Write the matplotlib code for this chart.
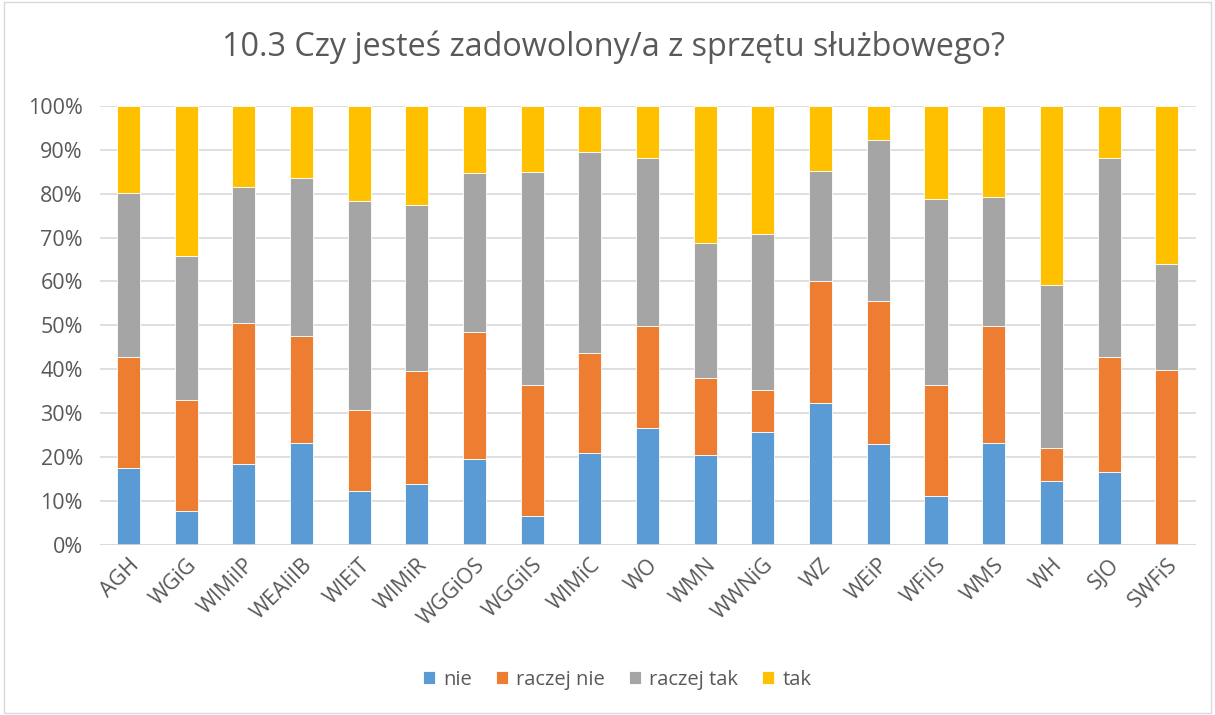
"""
stacked percent bars: satisfaction with work equipment per faculty
"""

import matplotlib.pyplot as plt
from matplotlib.patches import Rectangle

plt.rcParams['font.family'] = ['Open Sans', 'DejaVu Sans']

faculties = ['AGH', 'WGiG', 'WIMiIP', 'WEAIiIB', 'WIEiT', 'WIMiR', 'WGGiOS',
             'WGGiIS', 'WIMiC', 'WO', 'WMN', 'WWNiG', 'WZ', 'WEiP', 'WFiIS',
             'WMS', 'WH', 'SJO', 'SWFiS']
# cumulative tops, turned into shares below
top_nie = [17.6, 7.8, 18.4, 23.2, 12.3, 13.8, 19.6, 6.5, 21.0, 26.5,
           20.5, 25.6, 32.2, 22.9, 11.1, 23.3, 14.6, 16.5, 0.0]
top_raczej_nie = [42.8, 32.9, 50.6, 47.5, 30.6, 39.6, 48.4, 36.5, 43.8, 49.9,
                  37.9, 35.3, 60.2, 55.6, 36.5, 49.9, 22.1, 42.7, 39.8]
top_raczej_tak = [80.1, 65.8, 81.4, 83.5, 78.4, 77.3, 84.6, 84.9, 89.4, 88.2,
                  68.8, 70.9, 85.2, 92.2, 78.8, 79.3, 59.2, 88.1, 63.9]

nie = top_nie
raczej_nie = [b - a for a, b in zip(top_nie, top_raczej_nie)]
raczej_tak = [b - a for a, b in zip(top_raczej_nie, top_raczej_tak)]
tak = [100 - a for a in top_raczej_tak]

series = [('nie', nie, '#5B9BD5'),
          ('raczej nie', raczej_nie, '#ED7D31'),
          ('raczej tak', raczej_tak, '#A5A5A5'),
          ('tak', tak, '#FFC000')]

text_color = '#595959'

fig = plt.figure(figsize=(12.15, 7.15), dpi=100)
ax = fig.add_axes([0.082, 0.238, 0.902, 0.614])

x = range(len(faculties))
bottom = [0.0] * len(faculties)
for name, vals, col in series:
    ax.bar(x, vals, width=0.4, bottom=bottom, color=col, label=name,
           edgecolor='white', linewidth=0.6, zorder=3)
    bottom = [b + v for b, v in zip(bottom, vals)]

ax.set_xlim(-0.5, len(faculties) - 0.5)
ax.set_ylim(0, 100)
ax.set_yticks(range(0, 101, 10))
ax.set_yticklabels([f'{t}%' for t in range(0, 101, 10)])
ax.set_xticks(list(x))
ax.set_xticklabels(faculties, rotation=45, ha='right', rotation_mode='anchor')
ax.tick_params(axis='both', length=0, labelsize=15.5, colors=text_color)
ax.tick_params(axis='y', pad=12)
ax.tick_params(axis='x', pad=7)
ax.grid(axis='y', color='#D9D9D9', linewidth=1.2, zorder=0)
for s in ax.spines.values():
    s.set_visible(False)
ax.axhline(0, color='#D9D9D9', linewidth=1.2, zorder=4)

fig.suptitle('10.3 Czy jesteś zadowolony/a z sprzętu służbowego?',
             x=0.505, y=0.958, fontsize=23.3, color=text_color)

fig.legend(loc='center', bbox_to_anchor=(0.508, 0.049), ncol=4, frameon=False,
           fontsize=14.5, labelcolor=text_color, handlelength=0.6,
           handleheight=0.6, handletextpad=0.4, columnspacing=1.2)

fig.patches.append(Rectangle((0.003, 0.003), 0.994, 0.994, transform=fig.transFigure,
                             fill=False, edgecolor='#D9D9D9', linewidth=1))

fig.savefig('out.png', dpi=100)
